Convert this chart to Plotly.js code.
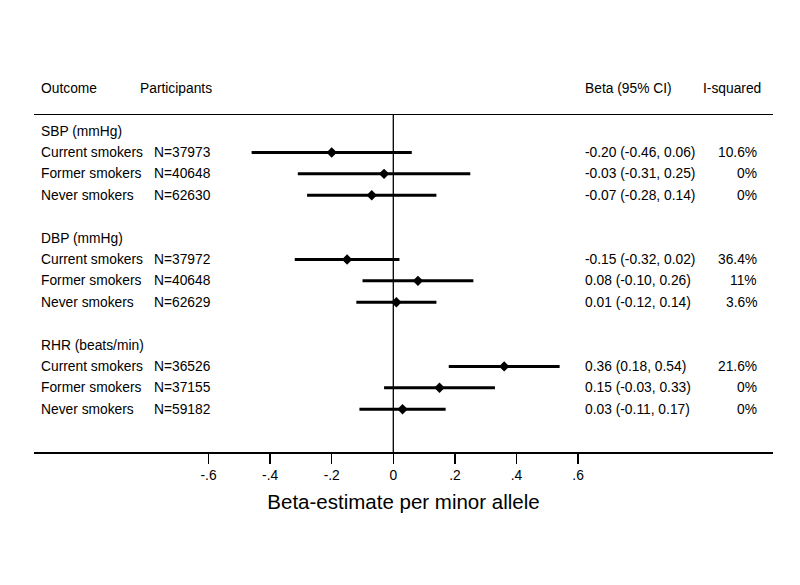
<!DOCTYPE html>
<html>
<head>
<meta charset="utf-8">
<script src="https://cdn.plot.ly/plotly-3.0.1.min.js"></script>
<style>html,body{margin:0;padding:0;background:#fff;}#chart{width:800px;height:585px;}</style>
</head>
<body>
<div id="chart"></div>
<script>
// ---- data ----
const outcomes = ['SBP (mmHg)', 'DBP (mmHg)', 'RHR (beats/min)'];
const groups = ['Current smokers', 'Former smokers', 'Never smokers'];
const participants = [37973, 40648, 62630, 37972, 40648, 62629, 36526, 37155, 59182];
const beta = [-0.20, -0.03, -0.07, -0.15, 0.08, 0.01, 0.36, 0.15, 0.03];
const lower = [-0.46, -0.31, -0.28, -0.32, -0.10, -0.12, 0.18, -0.03, -0.11];
const upper = [0.06, 0.25, 0.14, 0.02, 0.26, 0.14, 0.54, 0.33, 0.17];
const isquared = ['10.6%', '0%', '0%', '36.4%', '11%', '3.6%', '21.6%', '0%', '0%'];
const tickVals = [-0.6, -0.4, -0.2, 0, 0.2, 0.4, 0.6];
const tickText = ['-.6', '-.4', '-.2', '0', '.2', '.4', '.6'];
const headers = {outcome: 'Outcome', participants: 'Participants', beta: 'Beta (95% CI)', isq: 'I-squared'};
const xTitle = 'Beta-estimate per minor allele';

// ---- layout helpers ----
const W = 800, H = 585;
const L = 34, R = 773, T = 115, B = 452;
const px = v => (v - L) / (R - L);          // pixel -> paper x
const py = v => (B - v) / (B - T);          // pixel -> paper y
const FONT = 'Liberation Sans, Arial, sans-serif';
const FS = 13.8;

// row index for each item: group header rows and data rows
const rowsPerBlock = 5;
const dataRows = [];
const headerRows = [];
outcomes.forEach((o, i) => {
  headerRows.push(i * rowsPerBlock);
  groups.forEach((g, j) => dataRows.push(i * rowsPerBlock + 1 + j));
});

const fmt = v => v.toFixed(2);

const trace = {
  type: 'scatter', mode: 'markers',
  x: beta, y: dataRows,
  marker: {symbol: 'diamond', size: 8, color: '#000'},
  error_x: {
    type: 'data', symmetric: false,
    array: upper.map((u, i) => u - beta[i]),
    arrayminus: lower.map((l, i) => beta[i] - l),
    width: 0, thickness: 3, color: '#000'
  },
  cliponaxis: false, hoverinfo: 'skip', showlegend: false
};

const ann = [];
const txt = (x, y, text, anchor, yref) => ann.push({
  xref: 'paper', yref: yref || 'y', x: px(x), y: y, text: text, showarrow: false,
  xanchor: anchor || 'left', yanchor: 'middle', borderpad: 0,
  font: {family: FONT, size: FS, color: '#000'}
});

// column headers (above the top rule)
const headerY = py(88);
txt(40, headerY, headers.outcome, 'left', 'paper');
txt(139, headerY, headers.participants, 'left', 'paper');
txt(584, headerY, headers.beta, 'left', 'paper');
txt(702, headerY, headers.isq, 'left', 'paper');

outcomes.forEach((o, i) => txt(40, headerRows[i], o));
dataRows.forEach((r, k) => {
  txt(40, r, groups[k % groups.length]);
  txt(153, r, 'N=' + participants[k]);
  txt(584, r, fmt(beta[k]) + ' (' + fmt(lower[k]) + ', ' + fmt(upper[k]) + ')');
  txt(758, r, isquared[k], 'right');
});

const layout = {
  width: W, height: H,
  margin: {l: L, r: W - R, t: T, b: H - B, pad: 0},
  paper_bgcolor: '#fff', plot_bgcolor: '#fff',
  showlegend: false,
  xaxis: {
    range: [(L - 393.3) / 308, (R - 393.3) / 308],
    showgrid: false, zeroline: false,
    showline: true, mirror: true, linecolor: '#000', linewidth: 1.5,
    ticks: 'outside', ticklen: 10, tickwidth: 1.5, tickcolor: '#000',
    tickvals: tickVals, ticktext: tickText,
    tickfont: {family: FONT, size: FS, color: '#000'},
    title: {text: xTitle, font: {family: FONT, size: 20.5, color: '#000'}, standoff: 12},
    fixedrange: true
  },
  yaxis: {
    range: [15, -0.75], visible: false, fixedrange: true
  },
  shapes: [{
    type: 'line', xref: 'x', yref: 'paper', x0: 0, x1: 0, y0: 0, y1: 1,
    line: {color: '#000', width: 1.3}, layer: 'below'
  }],
  annotations: ann
};

Plotly.newPlot('chart', [trace], layout, {staticPlot: true, displayModeBar: false});
</script>
</body>
</html>
